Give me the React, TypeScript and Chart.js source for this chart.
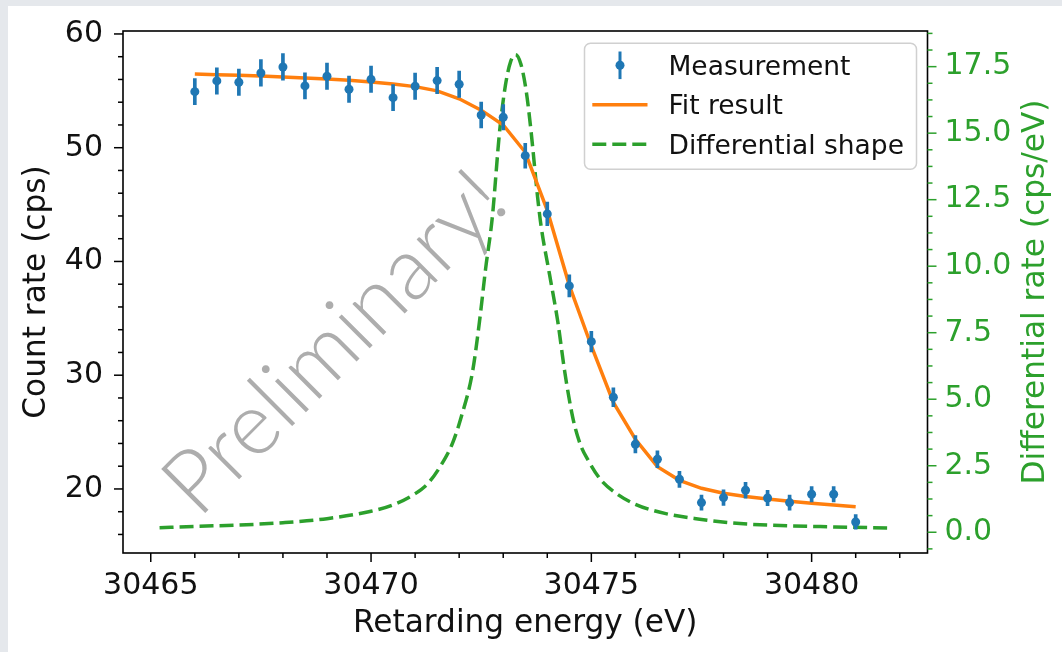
import React, { useEffect, useRef } from 'react';
import { Chart, registerables } from 'chart.js';

Chart.register(...registerables);

// ---------- data ----------
const MEAS_X = [
  30466, 30466.5, 30467, 30467.5, 30468, 30468.5, 30469, 30469.5, 30470, 30470.5,
  30471, 30471.5, 30472, 30472.5, 30473, 30473.5, 30474, 30474.5, 30475, 30475.5,
  30476, 30476.5, 30477, 30477.5, 30478, 30478.5, 30479, 30479.5, 30480, 30480.5, 30481,
];
const MEAS_Y = [
  54.93, 55.87, 55.75, 56.57, 57.1, 55.43, 56.28, 55.14, 56.01, 54.4,
  55.4, 55.9, 55.58, 52.88, 52.68, 49.3, 44.18, 37.85, 32.95, 28.06,
  23.93, 22.61, 20.85, 18.8, 19.24, 19.89, 19.21, 18.8, 19.53, 19.53, 17.1,
];
const MEAS_ERR = [
  1.15, 1.16, 1.16, 1.17, 1.17, 1.15, 1.16, 1.15, 1.16, 1.14,
  1.15, 1.16, 1.15, 1.13, 1.12, 1.09, 1.04, 0.97, 0.9, 0.83,
  0.76, 0.74, 0.71, 0.67, 0.68, 0.69, 0.68, 0.67, 0.68, 0.68, 0.64,
];
const FIT_Y = [
  56.48, 56.42, 56.37, 56.31, 56.22, 56.13, 56.04, 55.93, 55.78, 55.6,
  55.37, 55.0, 54.3, 53.3, 52.0, 49.6, 44.5, 37.9, 32.57, 27.6,
  24.37, 21.96, 20.76, 20.06, 19.62, 19.33, 19.12, 18.92, 18.74, 18.59, 18.44,
];
const DIFF_X = [
  30465.2, 30466, 30467, 30468, 30469, 30470, 30470.5, 30471, 30471.3, 30471.6,
  30471.85, 30472.05, 30472.3, 30472.46, 30472.6, 30472.75, 30472.92, 30473.05, 30473.17, 30473.28,
  30473.4, 30473.52, 30473.63, 30473.78, 30473.86, 30474.05, 30474.24, 30474.39, 30474.58, 30474.75,
  30474.93, 30475.2, 30475.54, 30476, 30476.69, 30477.46, 30478.2, 30478.99, 30480.53, 30481.82,
];
const DIFF_Y = [
  0.17, 0.22, 0.27, 0.36, 0.51, 0.79, 1.03, 1.45, 1.85, 2.55,
  3.35, 4.35, 6.0, 7.9, 9.9, 11.8, 15.1, 16.8, 17.7, 17.95,
  17.6, 16.6, 15.1, 12.6, 11.5, 9.7, 7.9, 6.1, 4.3, 3.3,
  2.7, 2.0, 1.49, 1.05, 0.7, 0.49, 0.35, 0.27, 0.2, 0.16,
];

const X_RANGE = [30464.37, 30482.63];
const Y_RANGE = [14.37, 60.26];
const Y2_RANGE = [-0.78, 18.84];
const X_STEPS = [5, 1];
const Y_STEPS = [10, 2];
const Y2_STEPS = [2.5, 0.625];

const LEGEND_LABELS = ['Measurement', 'Fit result', 'Differential shape'];
const X_TITLE = 'Retarding energy (eV)';
const Y_TITLE = 'Count rate (cps)';
const Y2_TITLE = 'Differential rate (cps/eV)';
const WATERMARK = 'Preliminary!';

// ---------- styles ----------
const BLUE = '#1f77b4';
const ORANGE = '#ff7f0e';
const GREEN = '#2ca02c';
const TEXT = '#111111';
const PAGE_BG = '#e5e8ec';
const FONT = "'DejaVu Sans', sans-serif";
const TITLE_SIZE = 31.2;

const isMul = (v: number, step: number) => Math.abs(v / step - Math.round(v / step)) < 1e-6;

const decorPlugin = {
  id: 'decor',
  beforeDatasetsDraw(chart: any) {
    const { ctx, chartArea: ca } = chart;
    ctx.save();
    ctx.translate(ca.left + 0.2885 * ca.width, ca.top + 0.636 * ca.height);
    ctx.rotate(-Math.PI / 4);
    ctx.font = "300 88px Lato, 'DejaVu Sans', sans-serif";
    ctx.fillStyle = '#adadad';
    ctx.textAlign = 'center';
    ctx.textBaseline = 'alphabetic';
    ctx.fillText(WATERMARK, 0, 0);
    ctx.restore();
  },
  afterDraw(chart: any) {
    const { ctx, chartArea: ca, scales } = chart;
    ctx.save();
    // frame
    ctx.strokeStyle = '#000';
    ctx.lineWidth = 1.6;
    ctx.strokeRect(ca.left, ca.top, ca.right - ca.left, ca.bottom - ca.top);

    // ticks (major + minor)
    const drawTicks = (scale: any, side: string, major: number, color: string) => {
      ctx.strokeStyle = color;
      ctx.lineWidth = 1.5;
      scale.ticks.forEach((t: any) => {
        const len = isMul(t.value, major) ? 9 : 5;
        const p = scale.getPixelForValue(t.value);
        ctx.beginPath();
        if (side === 'bottom') {
          ctx.moveTo(p, ca.bottom);
          ctx.lineTo(p, ca.bottom + len);
        } else if (side === 'left') {
          ctx.moveTo(ca.left, p);
          ctx.lineTo(ca.left - len, p);
        } else {
          ctx.moveTo(ca.right, p);
          ctx.lineTo(ca.right + len, p);
        }
        ctx.stroke();
      });
    };
    drawTicks(scales.x, 'bottom', X_STEPS[0], '#000');
    drawTicks(scales.y, 'left', Y_STEPS[0], '#000');
    drawTicks(scales.y2, 'right', Y2_STEPS[0], GREEN);

    // right axis title (reads bottom to top)
    ctx.save();
    ctx.translate(scales.y2.right - 26.3, (ca.top + ca.bottom) / 2);
    ctx.rotate(-Math.PI / 2);
    ctx.font = `${TITLE_SIZE}px ${FONT}`;
    ctx.fillStyle = GREEN;
    ctx.textAlign = 'center';
    ctx.textBaseline = 'middle';
    ctx.fillText(Y2_TITLE, 0, 0);
    ctx.restore();

    // legend
    const w = 332, h = 126;
    const bx = ca.right - 11 - w;
    const by = ca.top + 12.3;
    ctx.beginPath();
    ctx.roundRect(bx, by, w, h, 6);
    ctx.fillStyle = 'rgba(255,255,255,0.8)';
    ctx.fill();
    ctx.strokeStyle = '#d0d0d0';
    ctx.lineWidth = 1.5;
    ctx.stroke();

    const rows = [22, 61.5, 101];
    const hx0 = bx + 7.8, hx1 = bx + 63;
    // measurement handle
    const mx = bx + 35.5;
    let cy = by + rows[0];
    ctx.strokeStyle = BLUE;
    ctx.lineWidth = 3;
    ctx.beginPath();
    ctx.moveTo(mx, cy - 13.8);
    ctx.lineTo(mx, cy + 13.8);
    ctx.stroke();
    ctx.fillStyle = BLUE;
    ctx.beginPath();
    ctx.arc(mx, cy, 4.5, 0, Math.PI * 2);
    ctx.fill();
    // fit handle
    cy = by + rows[1];
    ctx.strokeStyle = ORANGE;
    ctx.lineWidth = 3.5;
    ctx.beginPath();
    ctx.moveTo(hx0, cy);
    ctx.lineTo(hx1, cy);
    ctx.stroke();
    // diff handle
    cy = by + rows[2];
    ctx.strokeStyle = GREEN;
    ctx.setLineDash([14, 6]);
    ctx.beginPath();
    ctx.moveTo(hx0, cy);
    ctx.lineTo(hx1, cy);
    ctx.stroke();
    ctx.setLineDash([]);

    ctx.font = `26.5px ${FONT}`;
    ctx.fillStyle = TEXT;
    ctx.textAlign = 'left';
    ctx.textBaseline = 'alphabetic';
    LEGEND_LABELS.forEach((lbl, i) => {
      ctx.fillText(lbl, bx + 84, by + rows[i] + 0.365 * 26.5);
    });
    ctx.restore();
  },
};

const zeroPad = (scale: any) => {
  scale.paddingTop = 0;
  scale.paddingBottom = 0;
  scale.paddingLeft = 0;
  scale.paddingRight = 0;
};

export default function App() {
  const ref = useRef<HTMLCanvasElement>(null);

  useEffect(() => {
    document.body.style.margin = '0';
    document.body.style.background = PAGE_BG;
    const tickFont = { family: FONT, size: 30 };
    const chart = new Chart(ref.current as HTMLCanvasElement, {
      type: 'scatter',
      data: {
        datasets: [
          {
            type: 'scatter',
            label: LEGEND_LABELS[0],
            data: MEAS_X.map((x, i) => ({ x, y: MEAS_Y[i] })),
            pointRadius: 4.5,
            pointBackgroundColor: BLUE,
            pointBorderWidth: 0,
            backgroundColor: BLUE,
            borderColor: BLUE,
            xAxisID: 'x',
            yAxisID: 'y',
            order: 0,
          },
          {
            type: 'bar',
            label: 'errors',
            data: MEAS_X.map((x, i) => ({ x, y: [MEAS_Y[i] - MEAS_ERR[i], MEAS_Y[i] + MEAS_ERR[i]] })),
            backgroundColor: BLUE,
            borderWidth: 0,
            barThickness: 3,
            xAxisID: 'x',
            yAxisID: 'y',
            order: 1,
          } as any,
          {
            type: 'line',
            label: LEGEND_LABELS[1],
            data: MEAS_X.map((x, i) => ({ x, y: FIT_Y[i] })),
            borderColor: ORANGE,
            borderWidth: 3.5,
            pointRadius: 0,
            tension: 0,
            fill: false,
            xAxisID: 'x',
            yAxisID: 'y',
            order: 2,
          },
          {
            type: 'line',
            label: LEGEND_LABELS[2],
            data: DIFF_X.map((x, i) => ({ x, y: DIFF_Y[i] })),
            borderColor: GREEN,
            borderWidth: 3.5,
            borderDash: [14, 6],
            pointRadius: 0,
            cubicInterpolationMode: 'monotone',
            fill: false,
            xAxisID: 'x',
            yAxisID: 'y2',
            order: 3,
          },
        ],
      },
      options: {
        responsive: false,
        animation: false,
        devicePixelRatio: 1,
        layout: { padding: { top: 25, left: 0, right: 0, bottom: 0 } },
        plugins: { legend: { display: false }, tooltip: { enabled: false }, title: { display: false } },
        events: [],
        scales: {
          x: {
            type: 'linear',
            position: 'bottom',
            min: X_RANGE[0],
            max: X_RANGE[1],
            offset: false,
            border: { display: false },
            grid: { display: true, offset: false, drawOnChartArea: false, drawTicks: true, tickLength: 9, tickColor: 'rgba(0,0,0,0)' },
            ticks: {
              stepSize: X_STEPS[1],
              includeBounds: false,
              autoSkip: false,
              maxRotation: 0,
              minRotation: 0,
              padding: 6,
              color: TEXT,
              font: tickFont,
              callback: (v: any) => (isMul(Number(v), X_STEPS[0]) ? String(Math.round(Number(v))) : ''),
            },
            title: { display: true, text: X_TITLE, color: TEXT, font: { family: FONT, size: TITLE_SIZE }, padding: { top: 0, bottom: 9 } },
            afterFit: (s: any) => {
              s.height = 99;
              zeroPad(s);
            },
          },
          y: {
            type: 'linear',
            position: 'left',
            min: Y_RANGE[0],
            max: Y_RANGE[1],
            beginAtZero: false,
            border: { display: false },
            grid: { display: true, drawOnChartArea: false, drawTicks: true, tickLength: 9, tickColor: 'rgba(0,0,0,0)' },
            ticks: {
              stepSize: Y_STEPS[1],
              includeBounds: false,
              autoSkip: false,
              padding: 11,
              color: TEXT,
              font: tickFont,
              callback: (v: any) => (isMul(Number(v), Y_STEPS[0]) ? String(Math.round(Number(v))) : ''),
            },
            title: { display: true, text: Y_TITLE, color: TEXT, font: { family: FONT, size: TITLE_SIZE }, padding: { top: 10, bottom: 0 } },
            afterFit: (s: any) => {
              s.width = 115;
              zeroPad(s);
            },
          },
          y2: {
            type: 'linear',
            position: 'right',
            min: Y2_RANGE[0],
            max: Y2_RANGE[1],
            beginAtZero: false,
            border: { display: false },
            grid: { display: true, drawOnChartArea: false, drawTicks: true, tickLength: 9, tickColor: 'rgba(0,0,0,0)' },
            ticks: {
              stepSize: Y2_STEPS[1],
              includeBounds: false,
              autoSkip: false,
              padding: 8,
              color: GREEN,
              font: tickFont,
              callback: (v: any) => (isMul(Number(v), Y2_STEPS[0]) ? Number(v).toFixed(1) : ''),
            },
            title: { display: false },
            afterFit: (s: any) => {
              s.width = 134.5;
              zeroPad(s);
            },
          },
        },
      } as any,
      plugins: [decorPlugin],
    } as any);
    return () => chart.destroy();
  }, []);

  return (
    <div style={{ position: 'fixed', inset: 0, background: PAGE_BG }}>
      <div style={{ position: 'absolute', left: 8, top: 6, width: 1054, height: 646, background: '#ffffff' }}>
        <canvas ref={ref} width={1054} height={646} style={{ display: 'block', width: 1054, height: 646 }} />
      </div>
    </div>
  );
}
